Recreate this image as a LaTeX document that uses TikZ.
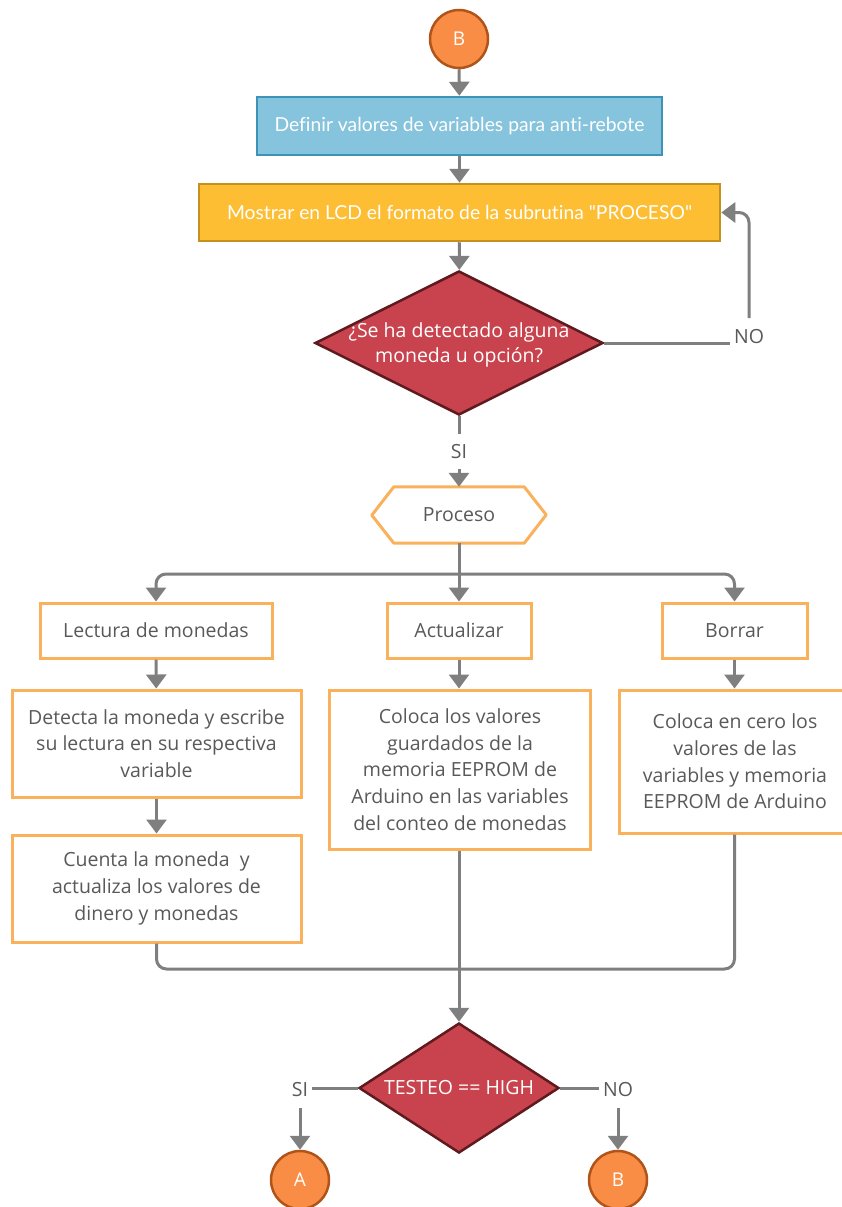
\documentclass[tikz,border=0pt]{standalone}
\usepackage{fontspec}
\setmainfont{Open Sans}
\newfontfamily\latofont[Ligatures=NoCommon]{Lato}
\usetikzlibrary{arrows.meta,shapes.geometric}
\definecolor{gline}{HTML}{7F7F7F}
\definecolor{gtext}{HTML}{595959}
\definecolor{bluefill}{HTML}{86C3DC}
\definecolor{blueedge}{HTML}{3B93B8}
\definecolor{yelfill}{HTML}{FDBE34}
\definecolor{yeledge}{HTML}{C4901E}
\definecolor{redfill}{HTML}{C8434D}
\definecolor{rededge}{HTML}{5E1A1E}
\definecolor{orfill}{HTML}{F98D45}
\definecolor{oredge}{HTML}{B0541A}
\definecolor{boxedge}{HTML}{F9B15C}
\tikzset{
  arr/.style={draw=gline, line width=3pt, -{Triangle[width=20pt,length=14pt]}},
  ln/.style={draw=gline, line width=3pt},
  conn/.style={circle, fill=orfill, draw=oredge, line width=2.5pt, minimum size=58pt, inner sep=0pt, text=white, font=\fontsize{19}{22}\selectfont},
  obox/.style={rectangle, draw=boxedge, fill=white, line width=3pt, inner sep=0pt, text=gtext, align=center, font=\fontsize{19.5}{26.6}\selectfont},
  topbox/.style={rectangle, line width=2.5pt, inner sep=0pt, text=white, font=\latofont\fontsize{19.3}{22}\selectfont},
  dia/.style={diamond, fill=redfill, draw=rededge, line width=2.5pt, inner sep=0pt},
  dtext/.style={text=white, align=center, font=\fontsize{19.5}{25}\selectfont},
  lab/.style={text=gtext, font=\fontsize{19.5}{22}\selectfont, inner sep=4pt},
}
\begin{document}
\begin{tikzpicture}[x=1pt,y=-1pt]
\useasboundingbox (0,0) rectangle (842,1207);
\node[conn] (B1) at (459,39) {B};
\node[topbox, fill=bluefill, draw=blueedge, minimum width=405pt, minimum height=58pt] (def) at (459.5,126) {Definir valores de variables para anti-rebote};
\node[topbox, fill=yelfill, draw=yeledge, minimum width=521pt, minimum height=57pt] (most) at (459.5,212.5) {Mostrar en LCD el formato de la subrutina "PROCESO"};
\node[dia, minimum width=288pt, minimum height=144pt] (d1) at (459,343) {};
\node[dtext] (d1t) at (459,344.5) {¿Se ha detectado alguna\\moneda u opción?};
\node[lab] (no1) at (749,337) {NO};
\node[lab] (si1) at (459,452) {SI};
% hexagon
\node[minimum width=130pt, minimum height=56pt, inner sep=0pt, text=gtext, font=\fontsize{19.5}{22}\selectfont] (proc) at (459,515) {Proceso};
\draw[draw=boxedge, line width=3pt, line join=round] (proc.north west) -- (proc.north east) -- ++(22,28) -- (proc.south east) -- (proc.south west) -- ++(-22,-28) -- cycle;
% branch boxes
\node[obox, minimum width=232pt, minimum height=55pt] (lect) at (156,630.5) {Lectura de monedas};
\node[obox, minimum width=144pt, minimum height=55pt] (act) at (459,630.5) {Actualizar};
\node[obox, minimum width=145pt, minimum height=55pt] (bor) at (734.5,630.5) {Borrar};
\node[obox, minimum width=289pt, minimum height=107pt] (det) at (156.5,743.5) {Detecta la moneda y escribe\\su lectura en su respectiva\\variable};
\node[obox, minimum width=289pt, minimum height=107pt] (cue) at (156.5,888.5) {Cuenta la moneda\ \ y\\actualiza los valores de\\dinero y monedas};
\node[obox, minimum width=261pt, minimum height=159pt] (colv) at (460,769.5) {Coloca los valores\\guardados de la\\memoria EEPROM de\\Arduino en las variables\\del conteo de monedas};
\node[obox, minimum width=232pt, minimum height=143pt] (colc) at (735,761.5) {Coloca en cero los\\valores de las\\variables y memoria\\EEPROM de Arduino};
% bottom decision
\node[dia, minimum width=200pt, minimum height=130pt] (d2) at (459,1088) {};
\node[dtext] (d2t) at (459,1088) {TESTEO == HIGH};
\node[lab] (si2) at (300,1090) {SI};
\node[lab] (no2) at (618,1090) {NO};
\node[conn] (A) at (300,1180) {A};
\node[conn] (B2) at (618,1180) {B};
\coordinate (bus) at (459,574);
\coordinate (merge) at (459,969);
% connectors
\draw[arr] (B1) -- (def);
\draw[arr] (def) -- (most);
\draw[arr] (most) -- (d1);
\draw[ln] (d1.east) -- (d1.east -| no1.west);
\draw[arr, rounded corners=10pt] ([yshift=19pt]no1.center) |- (most.east);
\draw[ln] (d1.south) -- ([yshift=18pt]si1.center);
\draw[arr] ([yshift=-17pt]si1.center) -- (proc.north);
\draw[ln] (proc.south) -- (bus);
\draw[arr, rounded corners=10pt] (bus) -| (lect.north);
\draw[arr, rounded corners=10pt] (bus) -| (bor.north);
\draw[arr] (bus) -- (act.north);
\draw[arr] (lect) -- (det);
\draw[arr] (det) -- (cue);
\draw[arr] (act.south) -- (act.south |- colv.north);
\draw[arr] (bor.south) -- (bor.south |- colc.north);
\draw[ln, rounded corners=10pt] (cue.south) |- (merge) -| (colc.south -| bor.south);
\draw[arr] (colv.south -| d2.north) -- (d2.north);
\draw[ln] (d2.west) -- (d2.west -| si2.east);
\draw[ln] (d2.east) -- (d2.east -| no2.west);
\draw[arr] ([yshift=-18pt]si2.center) -- (A.north);
\draw[arr] ([yshift=-18pt]no2.center) -- (B2.north);
\end{tikzpicture}
\end{document}
